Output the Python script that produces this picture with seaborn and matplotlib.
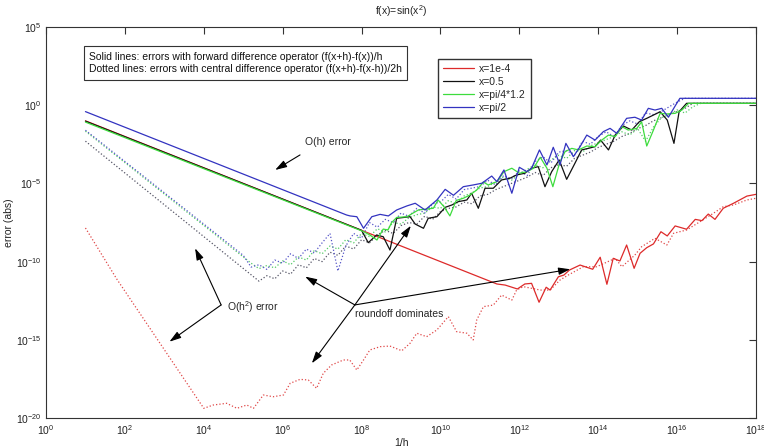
import numpy as np
import pandas as pd
import seaborn as sns
import matplotlib
matplotlib.use('Agg')
import matplotlib.pyplot as plt
from matplotlib.ticker import FixedLocator, FuncFormatter, NullLocator

# values: log10(1/h) and log10(error)
# solid lines: forward difference
red_x = [1.0, 11.2, 11.43, 11.64, 11.95, 12.14, 12.31, 12.50, 12.68, 12.78, 12.99, 13.13, 13.27, 13.54,
         13.86, 14.05, 14.22, 14.38, 14.55, 14.72, 14.91, 15.06, 15.23, 15.40, 15.59, 15.75, 15.95, 16.24,
         16.46, 16.63, 16.79, 16.96, 17.17, 17.43, 17.77, 18.0]
red_y = [-1.0, -11.2, -11.43, -11.50, -11.75, -11.43, -11.39, -12.60, -11.64, -11.82, -10.97, -10.86, -10.54,
         -10.22, -10.49, -9.72, -11.45, -9.79, -9.96, -8.94, -10.43, -9.47, -9.11, -8.87, -8.09, -8.36, -7.72,
         -7.93, -7.30, -7.38, -6.96, -7.30, -6.59, -6.27, -5.81, -5.70]

black_x = [1.0, 8.0, 8.17, 8.38, 8.55, 8.72, 8.89, 9.23, 9.36, 9.57, 9.69, 9.91, 10.12, 10.29, 10.45, 10.67,
           10.79, 10.96, 11.13, 11.34, 11.55, 11.76, 11.93, 12.14, 12.31, 12.48, 12.65, 12.82, 13.01, 13.20,
           13.41, 13.58, 13.75, 13.92, 14.06, 14.26, 14.43, 14.64, 14.85, 15.04, 15.23, 15.40, 15.57, 15.75,
           15.92, 16.05, 16.24, 18.0]
black_y = [-1.02, -8.0, -8.79, -8.30, -8.41, -9.26, -7.23, -7.13, -7.60, -7.87, -7.23, -7.13, -6.53, -6.38,
           -6.17, -6.06, -5.63, -6.59, -5.31, -5.31, -4.78, -4.67, -4.46, -4.35, -4.03, -3.93, -5.21, -4.25,
           -3.50, -4.74, -3.71, -2.86, -2.76, -2.65, -2.23, -2.86, -1.91, -1.33, -1.59, -1.06, -0.84, -0.63,
           -0.42, -0.95, -2.44, -0.42, 0.12, 0.12]

green_x = [1.0, 8.05, 8.21, 8.39, 8.55, 8.67, 8.76, 8.89, 9.15, 9.31, 9.44, 9.65, 9.82, 9.94, 10.09, 10.24,
           10.40, 10.58, 10.75, 10.92, 11.09, 11.21, 11.43, 11.61, 11.81, 12.00, 12.19, 12.36, 12.53, 12.70,
           12.85, 13.03, 13.16, 13.33, 13.50, 13.71, 13.92, 14.09, 14.26, 14.43, 14.60, 14.76, 14.98, 15.10,
           15.23, 15.40, 15.57, 15.74, 15.95, 16.12, 16.29, 18.0]
green_y = [-1.08, -8.08, -8.30, -8.62, -7.92, -7.98, -7.51, -7.18, -7.13, -6.89, -6.70, -6.64, -6.59, -6.06,
           -6.49, -7.08, -6.09, -5.95, -5.74, -5.42, -4.91, -5.10, -4.89, -4.25, -4.03, -4.35, -4.25, -4.03,
           -3.33, -4.03, -5.21, -3.61, -2.97, -2.76, -2.86, -2.61, -2.65, -2.23, -1.91, -2.01, -1.37, -1.59,
           -1.48, -1.06, -2.61, -1.59, -0.52, -0.56, -0.52, -0.31, 0.12, 0.12]

blue_x = [1.0, 7.62, 7.71, 7.88, 8.05, 8.26, 8.47, 8.68, 8.89, 9.15, 9.36, 9.61, 9.91, 10.12, 10.33, 10.58,
          10.83, 11.05, 11.30, 11.43, 11.61, 11.81, 12.00, 12.19, 12.31, 12.51, 12.70, 12.86, 13.03, 13.18,
          13.37, 13.54, 13.71, 13.92, 14.13, 14.30, 14.47, 14.72, 14.93, 15.10, 15.27, 15.44, 15.61, 15.78,
          15.95, 16.07, 18.0]
blue_y = [-0.41, -7.02, -7.08, -7.13, -7.87, -7.13, -6.98, -7.08, -6.70, -6.44, -6.27, -6.70, -6.06, -5.38,
          -5.76, -5.21, -5.10, -4.99, -4.53, -4.89, -4.14, -5.63, -3.97, -4.25, -4.03, -2.86, -3.82, -2.69,
          -3.82, -2.44, -3.29, -2.65, -1.91, -2.23, -1.69, -1.48, -1.80, -0.84, -0.77, -0.95, -0.20, -0.31,
          -0.20, -0.77, -0.05, 0.44, 0.44]

# dotted lines: central difference
red_c_x = [1.0, 1.79, 4.0, 4.24, 4.58, 4.84, 5.09, 5.26, 5.51, 5.76, 6.02, 6.19, 6.44, 6.65, 6.86, 7.03,
           7.24, 7.54, 7.70, 7.88, 8.05, 8.21, 8.47, 8.72, 9.02, 9.23, 9.40, 9.65, 9.91, 10.20, 10.41, 10.67,
           10.83, 10.92, 11.09, 11.34, 11.55, 11.81, 11.93, 12.10, 12.53, 12.78, 13.03, 13.24, 13.62, 13.96,
           14.43, 14.60, 14.93, 15.10, 15.44, 15.74, 15.91, 16.24, 16.58, 16.92, 17.17, 17.43, 17.77, 18.0]
red_c_y = [-7.85, -11.1, -19.38, -19.17, -19.06, -19.38, -19.17, -19.38, -18.53, -18.64, -18.53, -17.78,
           -17.53, -17.57, -18.10, -17.14, -16.61, -16.29, -16.29, -16.93, -16.29, -15.65, -15.44, -15.40,
           -15.70, -15.22, -14.58, -14.80, -14.37, -13.52, -14.48, -14.58, -15.01, -13.73, -12.88, -12.78,
           -12.14, -12.46, -11.82, -11.60, -11.82, -11.82, -11.18, -10.86, -10.33, -10.33, -9.79, -10.33,
           -9.58, -9.05, -8.51, -8.94, -8.19, -7.98, -7.45, -6.91, -6.49, -6.38, -6.06, -5.95]

black_c_x = [1.0, 5.4, 5.6, 5.8, 6.0, 6.2, 6.4, 6.6, 6.8, 7.0, 7.2, 7.4, 7.6, 7.8, 8.0, 8.2, 8.4, 8.6, 8.8,
             9.0, 9.2, 9.4, 9.6, 9.8, 10.0, 10.2, 10.4, 10.6, 10.8, 11.0, 11.2, 11.4, 11.6, 11.8, 12.0, 12.2,
             12.4, 12.6, 12.8, 13.0, 13.2, 13.4, 13.6, 13.8, 14.0, 14.2, 14.4, 14.6, 14.8, 15.0, 15.2, 15.4,
             15.6, 15.8, 16.0, 16.2, 16.4, 18.0]
black_c_y = [-2.30, -11.25, -10.90, -11.10, -10.60, -10.80, -10.20, -10.40, -9.80, -10.00, -9.40, -9.60,
             -9.00, -9.20, -8.60, -8.80, -8.30, -8.00, -8.20, -7.70, -7.50, -7.60, -7.10, -7.30, -6.80, -6.60,
             -6.50, -6.20, -6.30, -5.80, -5.70, -5.40, -5.20, -5.00, -4.80, -4.60, -4.30, -4.50, -4.00, -3.80,
             -3.90, -3.40, -3.20, -3.00, -2.70, -2.50, -2.30, -2.00, -1.80, -1.50, -1.30, -1.00, -0.80, -0.60,
             -0.40, -0.20, 0.12, 0.12]

green_c_x = [1.0, 5.2, 5.4, 5.6, 5.8, 6.0, 6.2, 6.4, 6.6, 6.8, 7.0, 7.2, 7.4, 7.6, 7.8, 8.0, 8.2, 8.4, 8.6,
             8.8, 9.0, 9.2, 9.4, 9.6, 9.8, 10.0, 10.2, 10.4, 10.6, 10.8, 11.0, 11.2, 11.4, 11.6, 11.8, 12.0,
             12.2, 12.4, 12.6, 12.8, 13.0, 13.2, 13.4, 13.6, 13.8, 14.0, 14.2, 14.4, 14.6, 14.8, 15.0, 15.2,
             15.4, 15.6, 15.8, 16.0, 16.2, 16.4, 16.6, 18.0]
green_c_y = [-1.66, -10.10, -10.45, -10.25, -10.40, -9.95, -10.20, -9.70, -9.90, -9.30, -9.50, -9.00, -9.20,
             -8.60, -8.80, -8.20, -8.40, -7.90, -8.10, -7.50, -7.60, -7.20, -7.00, -6.90, -6.50, -6.60, -6.10,
             -6.30, -5.80, -5.60, -5.30, -5.20, -4.90, -4.60, -4.80, -4.40, -4.10, -3.80, -4.00, -3.50, -3.20,
             -3.40, -2.90, -3.00, -2.60, -2.40, -2.20, -2.00, -1.70, -1.90, -1.50, -2.30, -1.40, -0.80, -0.60,
             -0.30, -0.50, -0.10, 0.12, 0.12]

blue_c_x = [1.0, 5.0, 5.2, 5.4, 5.6, 5.8, 6.0, 6.2, 6.4, 6.6, 6.8, 7.0, 7.2, 7.4, 7.6, 7.8, 8.0, 8.2, 8.4,
            8.6, 8.8, 9.0, 9.2, 9.4, 9.6, 9.8, 10.0, 10.2, 10.4, 10.6, 10.8, 11.0, 11.2, 11.4, 11.6, 11.8,
            12.0, 12.2, 12.4, 12.6, 12.8, 13.0, 13.2, 13.4, 13.6, 13.8, 14.0, 14.2, 14.4, 14.6, 14.8, 15.0,
            15.2, 15.4, 15.6, 15.8, 16.0, 16.2, 18.0]
blue_c_y = [-1.60, -9.60, -10.35, -10.20, -10.50, -9.90, -10.10, -9.50, -9.80, -9.20, -9.45, -8.80, -8.20,
            -10.60, -9.00, -8.20, -8.50, -7.50, -7.80, -7.30, -7.50, -6.90, -7.10, -6.60, -6.90, -6.30, -6.20,
            -5.70, -6.00, -5.40, -5.30, -5.20, -4.80, -5.10, -4.50, -4.70, -4.20, -4.50, -3.60, -3.30, -3.70,
            -3.00, -2.90, -3.20, -2.30, -2.50, -2.00, -1.70, -2.00, -1.30, -1.00, -1.20, -0.50, -0.60, -0.40,
            -0.10, 0.20, 0.44, 0.44]

labels = ['x=1e-4', 'x=0.5', 'x=pi/4*1.2', 'x=pi/2']
colors = ['#dd2a2a', '#111111', '#3ddc3d', '#3333c0']
dot_colors = ['#e04848', '#555566', '#55cc66', '#5555c8']
solid = [(red_x, red_y), (black_x, black_y), (green_x, green_y), (blue_x, blue_y)]
dotted = [(red_c_x, red_c_y), (black_c_x, black_c_y), (green_c_x, green_c_y), (blue_c_x, blue_c_y)]

sns.set_style('white')
plt.rcParams['font.family'] = ['Liberation Sans', 'DejaVu Sans']
plt.rcParams['mathtext.default'] = 'regular'

fig = plt.figure(figsize=(7.64, 4.48), dpi=100)
ax = fig.add_axes([46 / 764, 1 - 418 / 448, 710 / 764, 391 / 448])

for (xs, ys), c in zip(dotted, dot_colors):
    df = pd.DataFrame({'inv_h': 10.0 ** np.array(xs), 'err': 10.0 ** np.array(ys)})
    sns.lineplot(data=df, x='inv_h', y='err', ax=ax, color=c, lw=0.9, linestyle=':',
                 label='_nolegend_', legend=False)

handles = []
for (xs, ys), c, lab in zip(solid, colors, labels):
    df = pd.DataFrame({'inv_h': 10.0 ** np.array(xs), 'err': 10.0 ** np.array(ys)})
    sns.lineplot(data=df, x='inv_h', y='err', ax=ax, color=c, lw=0.9, label=lab, legend=False)
    handles.append(ax.lines[-1])

ax.set_xscale('log')
ax.set_yscale('log')
ax.set_xlim(1, 1e18)
ax.set_ylim(1e-20, 1e5)

ax.xaxis.set_major_locator(FixedLocator([10.0 ** k for k in range(0, 19, 2)]))
ax.yaxis.set_major_locator(FixedLocator([10.0 ** k for k in range(-20, 6, 5)]))
ax.xaxis.set_minor_locator(NullLocator())
ax.yaxis.set_minor_locator(NullLocator())
fmt = FuncFormatter(lambda v, p: '$10^{%d}$' % int(round(np.log10(v))))
ax.xaxis.set_major_formatter(fmt)
ax.yaxis.set_major_formatter(fmt)
ax.tick_params(direction='in', length=5, width=0.8, labelsize=7.5, top=True, right=True,
               color='#333333', labelcolor='#222222', pad=4)
ax.tick_params(axis='y', pad=3)
for s in ax.spines.values():
    s.set_color('#333333')
    s.set_linewidth(0.8)

ax.set_title('f(x)=sin(x$^2$)', fontsize=7.5, pad=9, color='#222222')
ax.set_xlabel('1/h', fontsize=7.5, color='#222222')
ax.set_ylabel('error (abs)', fontsize=7.5, color='#222222')
ax.xaxis.set_label_coords(0.5, -0.05)
ax.yaxis.set_label_coords(-0.045, 0.5)

ax.legend(handles=handles, labels=labels, loc='upper left', bbox_to_anchor=(0.552, 0.918),
          borderaxespad=0, fontsize=7.5, frameon=True, fancybox=False, framealpha=1,
          edgecolor='#333333', handlelength=3.0, handletextpad=0.5, labelspacing=0.3, borderpad=0.45)

ax.text(10 ** 1.09, 10 ** 2.7,
        'Solid lines: errors with forward difference operator (f(x+h)-f(x))/h\n'
        'Dotted lines: errors with central difference operator (f(x+h)-f(x-h))/2h',
        fontsize=7.5, va='center', ha='left', linespacing=1.35, color='#111111',
        bbox=dict(boxstyle='square,pad=0.5', fc='white', ec='#333333', lw=0.8))

arrow = dict(arrowstyle='-|>,head_length=0.7,head_width=0.22', color='black', lw=0.8,
             shrinkA=0, shrinkB=0)

# O(h) error
ax.text(10 ** 6.57, 10 ** -2.33, 'O(h) error', fontsize=7.5, va='center', ha='left')
ax.annotate('', xy=(10 ** 5.81, 10 ** -4.14), xytext=(10 ** 6.44, 10 ** -3.18), arrowprops=arrow)

# O(h^2) error
ax.text(10 ** 4.6, 10 ** -12.92, 'O(h$^2$) error', fontsize=7.5, va='center', ha='left')
for tip in [(3.78, -9.15), (3.13, -15.12)]:
    ax.annotate('', xy=(10 ** tip[0], 10 ** tip[1]), xytext=(10 ** 4.44, 10 ** -12.77), arrowprops=arrow)

# roundoff dominates
ax.text(10 ** 7.83, 10 ** -13.35, 'roundoff dominates', fontsize=7.5, va='center', ha='left')
for tip in [(6.57, -10.96), (9.25, -7.71), (13.29, -10.49), (6.74, -16.5)]:
    ax.annotate('', xy=(10 ** tip[0], 10 ** tip[1]), xytext=(10 ** 7.83, 10 ** -12.77), arrowprops=arrow)

fig.savefig('out.png', dpi=100)
